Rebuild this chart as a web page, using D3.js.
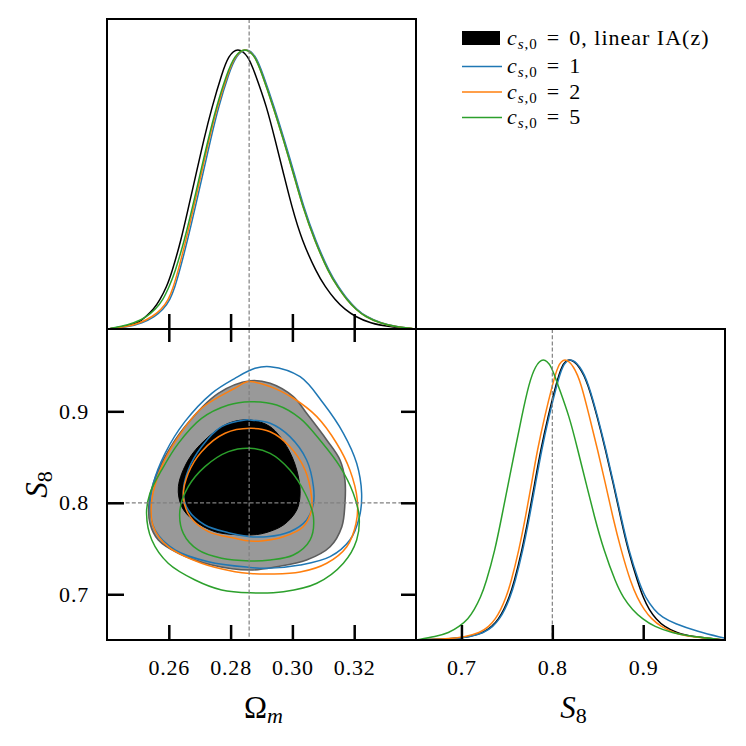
<!DOCTYPE html>
<html>
<head>
<meta charset="utf-8">
<script src="https://cdn.jsdelivr.net/npm/d3@7"></script>
<style>
body { margin: 0; background: #fff; }
</style>
</head>
<body>
<div id="chart"></div>
<script>
////////////////////////////////
//   Data
////////////////////////////////
const omTicks = [0.26, 0.28, 0.30, 0.32];
const s8Ticks = [0.7, 0.8, 0.9];
const omFid = 0.286;
const s8Fid = 0.8;

const legendValues = ["0", "1", "2", "5"];
const legendSuffix = [", linear IA(z)", "", "", ""];
const colors = ["#000000", "#1f77b4", "#ff7f0e", "#2ca02c"];

// 1D marginal of Omega_m, [value, normalised density]
const omPdfBlack = [[0.240, 0.0], [0.2454, 0.008], [0.2502, 0.02], [0.2525, 0.044], [0.2551, 0.07], [0.2571, 0.103],
  [0.2593, 0.15], [0.2609, 0.198], [0.2640, 0.316], [0.2664, 0.434], [0.2689, 0.553], [0.2713, 0.671], [0.2740, 0.789],
  [0.2772, 0.907], [0.2793, 0.97], [0.2823, 1.0], [0.2857, 0.97], [0.2879, 0.907], [0.2917, 0.789], [0.2944, 0.671],
  [0.2971, 0.553], [0.2998, 0.434], [0.3030, 0.316], [0.3079, 0.198], [0.3106, 0.15], [0.3138, 0.103], [0.3169, 0.07],
  [0.3203, 0.044], [0.3253, 0.02], [0.3310, 0.008], [0.340, 0.0]];
const omPdfBlue = [[0.240, 0.0], [0.2472, 0.008], [0.2512, 0.02], [0.2555, 0.044], [0.2582, 0.07], [0.2604, 0.103],
  [0.2620, 0.15], [0.2633, 0.198], [0.2661, 0.316], [0.2686, 0.434], [0.2711, 0.553], [0.2735, 0.671], [0.2761, 0.789],
  [0.2794, 0.907], [0.2818, 0.97], [0.2850, 1.0], [0.2882, 0.97], [0.2904, 0.907], [0.2941, 0.789], [0.2974, 0.671],
  [0.3006, 0.553], [0.3036, 0.434], [0.3074, 0.316], [0.3121, 0.198], [0.3149, 0.15], [0.3179, 0.103], [0.3208, 0.07],
  [0.3238, 0.044], [0.3288, 0.02], [0.3335, 0.008], [0.340, 0.0]];
const omPdfOrange = [[0.240, 0.0], [0.2465, 0.008], [0.2505, 0.02], [0.2548, 0.044], [0.2576, 0.07], [0.2599, 0.103],
  [0.2615, 0.15], [0.2628, 0.198], [0.2656, 0.316], [0.2681, 0.434], [0.2706, 0.553], [0.2730, 0.671], [0.2757, 0.789],
  [0.2791, 0.907], [0.2815, 0.97], [0.2847, 1.0], [0.2879, 0.97], [0.2901, 0.907], [0.2938, 0.789], [0.2971, 0.671],
  [0.3003, 0.553], [0.3033, 0.434], [0.3071, 0.316], [0.3118, 0.198], [0.3146, 0.15], [0.3176, 0.103], [0.3205, 0.07],
  [0.3235, 0.044], [0.3285, 0.02], [0.3332, 0.008], [0.340, 0.0]];
const omPdfGreen = [[0.240, 0.0], [0.2442, 0.008], [0.2487, 0.02], [0.2529, 0.044], [0.2557, 0.07], [0.2581, 0.103],
  [0.2601, 0.15], [0.2619, 0.198], [0.2651, 0.316], [0.2677, 0.434], [0.2702, 0.553], [0.2727, 0.671], [0.2754, 0.789],
  [0.2788, 0.907], [0.2813, 0.97], [0.2845, 1.0], [0.2879, 0.97], [0.2901, 0.907], [0.2938, 0.789], [0.2971, 0.671],
  [0.3003, 0.553], [0.3033, 0.434], [0.3071, 0.316], [0.3118, 0.198], [0.3146, 0.15], [0.3176, 0.103], [0.3205, 0.07],
  [0.3235, 0.044], [0.3285, 0.02], [0.3332, 0.008], [0.340, 0.0]];

// 1D marginal of S8
const s8PdfBlack = [[0.650, 0.0], [0.689, 0.003], [0.7093, 0.012], [0.7235, 0.025], [0.7338, 0.047], [0.7410, 0.075],
  [0.7466, 0.106], [0.7525, 0.15], [0.7576, 0.2], [0.7667, 0.318], [0.7740, 0.436], [0.7806, 0.554], [0.7872, 0.672],
  [0.7952, 0.79], [0.8044, 0.908], [0.8102, 0.97], [0.818, 1.0], [0.8298, 0.97], [0.8392, 0.908], [0.8494, 0.79],
  [0.8586, 0.672], [0.8670, 0.554], [0.8750, 0.436], [0.8832, 0.318], [0.8945, 0.2], [0.9000, 0.15], [0.9066, 0.106],
  [0.9140, 0.075], [0.9231, 0.047], [0.9370, 0.025], [0.9524, 0.012], [0.990, 0.0]];
const s8PdfBlue = [[0.650, 0.0], [0.690, 0.003], [0.7103, 0.012], [0.7245, 0.025], [0.7348, 0.047], [0.7420, 0.075],
  [0.7476, 0.106], [0.7535, 0.15], [0.7586, 0.2], [0.7677, 0.318], [0.7750, 0.436], [0.7816, 0.554], [0.7882, 0.672],
  [0.7962, 0.79], [0.8054, 0.908], [0.8112, 0.97], [0.819, 1.0], [0.8307, 0.97], [0.8397, 0.908], [0.8499, 0.79],
  [0.8591, 0.672], [0.8675, 0.554], [0.8756, 0.436], [0.8839, 0.318], [0.8957, 0.2], [0.9025, 0.15], [0.9121, 0.106],
  [0.9210, 0.08], [0.9340, 0.059], [0.9596, 0.03], [0.989, 0.007]];
const s8PdfOrange = [[0.650, 0.0], [0.685, 0.003], [0.7048, 0.012], [0.7200, 0.025], [0.7304, 0.047], [0.7375, 0.075],
  [0.7432, 0.106], [0.7490, 0.15], [0.7542, 0.2], [0.7633, 0.318], [0.7706, 0.436], [0.7772, 0.554], [0.7835, 0.672],
  [0.7915, 0.79], [0.8006, 0.908], [0.8060, 0.97], [0.8135, 1.0], [0.8235, 0.97], [0.8317, 0.908], [0.8408, 0.79],
  [0.8499, 0.672], [0.8584, 0.554], [0.8664, 0.436], [0.8756, 0.318], [0.8866, 0.2], [0.8935, 0.15], [0.9011, 0.106],
  [0.9090, 0.075], [0.9195, 0.047], [0.9340, 0.025], [0.9487, 0.012], [0.990, 0.0]];
const s8PdfGreen = [[0.650, 0.0], [0.6719, 0.012], [0.6860, 0.025], [0.6975, 0.047], [0.7075, 0.075], [0.7140, 0.106],
  [0.7210, 0.15], [0.7268, 0.2], [0.7370, 0.318], [0.7443, 0.436], [0.7516, 0.554], [0.7589, 0.672], [0.7663, 0.79],
  [0.7743, 0.908], [0.7813, 0.97], [0.790, 1.0], [0.7990, 0.97], [0.8054, 0.908], [0.8189, 0.79], [0.8280, 0.672],
  [0.8372, 0.554], [0.8463, 0.436], [0.8565, 0.318], [0.8701, 0.2], [0.8780, 0.15], [0.8883, 0.106], [0.8990, 0.075],
  [0.9121, 0.047], [0.9320, 0.025], [0.9524, 0.012], [0.990, 0.0]];

// 2D contours, [Omega_m, S8]
const contBlack95 = [[0.2863, 0.9335], [0.2928, 0.9306], [0.3003, 0.916], [0.3046, 0.8978], [0.3111, 0.8687], [0.3154, 0.8468],
  [0.3170, 0.8249], [0.3170, 0.7994], [0.3160, 0.7739], [0.3122, 0.752], [0.3046, 0.7375], [0.2949, 0.7301], [0.2863, 0.7265],
  [0.2739, 0.732], [0.2631, 0.7448], [0.2566, 0.7593], [0.2539, 0.7776], [0.2536, 0.7994], [0.2550, 0.8213], [0.2588, 0.8504],
  [0.2652, 0.8832], [0.2760, 0.9197]];
const contBlack68 = [[0.2863, 0.8905], [0.2928, 0.8832], [0.2982, 0.8613], [0.3014, 0.8359], [0.3025, 0.8104], [0.3014, 0.7921],
  [0.2971, 0.7757], [0.2906, 0.7666], [0.2863, 0.7648], [0.2836, 0.7648], [0.2750, 0.7684], [0.2679, 0.7812], [0.2642, 0.7957],
  [0.2631, 0.8176], [0.2663, 0.8468], [0.2717, 0.8686], [0.2793, 0.8869]];
const contBlue95 = [[0.2928, 0.9488], [0.3025, 0.9378], [0.3100, 0.9088], [0.3165, 0.876], [0.3208, 0.8432], [0.3224, 0.8104],
  [0.3217, 0.7848], [0.3186, 0.7593], [0.3122, 0.7411], [0.3025, 0.732], [0.2917, 0.7284], [0.2857, 0.7295], [0.2728, 0.7356],
  [0.2620, 0.7484], [0.2555, 0.7703], [0.2539, 0.7957], [0.2550, 0.8213], [0.2588, 0.8541], [0.2652, 0.8887], [0.2739, 0.9197],
  [0.2814, 0.9361], [0.2879, 0.947]];
const contBlue68 = [[0.2863, 0.8905], [0.2928, 0.8869], [0.2992, 0.8723], [0.3046, 0.8468], [0.3068, 0.8176], [0.3068, 0.7994],
  [0.3046, 0.7812], [0.2992, 0.7684], [0.2917, 0.7629], [0.2863, 0.763], [0.2793, 0.7673], [0.2717, 0.7757], [0.2663, 0.7921],
  [0.2647, 0.8104], [0.2663, 0.8359], [0.2706, 0.8613], [0.2771, 0.8832], [0.2847, 0.8905]];
const contOrange95 = [[0.2857, 0.9325], [0.2928, 0.927], [0.3003, 0.9143], [0.3079, 0.8942], [0.3143, 0.8651], [0.3186, 0.8359],
  [0.3210, 0.8031], [0.3206, 0.7776], [0.3176, 0.752], [0.3111, 0.7339], [0.3025, 0.7243], [0.2928, 0.7222], [0.2863, 0.7227],
  [0.2814, 0.7247], [0.2706, 0.7339], [0.2598, 0.752], [0.2550, 0.7739], [0.2545, 0.8031], [0.2577, 0.8395], [0.2631, 0.8723],
  [0.2706, 0.9033], [0.2814, 0.9252]];
const contOrange68 = [[0.2863, 0.8814], [0.2928, 0.8777], [0.2992, 0.8613], [0.3041, 0.8359], [0.3062, 0.8067], [0.3062, 0.7921],
  [0.3035, 0.7739], [0.2971, 0.7629], [0.2906, 0.7586], [0.2863, 0.7582], [0.2814, 0.7612], [0.2728, 0.7684], [0.2669, 0.7848],
  [0.2647, 0.8067], [0.2663, 0.8322], [0.2706, 0.8559], [0.2782, 0.876]];
const contGreen95 = [[0.2863, 0.9105], [0.2949, 0.9069], [0.3025, 0.8923], [0.3089, 0.8686], [0.3154, 0.8395], [0.3197, 0.8104],
  [0.3216, 0.7848], [0.3208, 0.7593], [0.3165, 0.7339], [0.3079, 0.712], [0.2971, 0.7028], [0.2863, 0.7016], [0.2771, 0.7047],
  [0.2685, 0.7156], [0.2598, 0.7339], [0.2545, 0.7593], [0.2528, 0.7885], [0.2539, 0.8104], [0.2577, 0.8359], [0.2631, 0.865],
  [0.2706, 0.8923], [0.2793, 0.9069]];
const contGreen68 = [[0.2863, 0.8596], [0.2928, 0.8541], [0.2992, 0.8359], [0.3041, 0.8104], [0.3068, 0.7848], [0.3057, 0.7593],
  [0.3003, 0.7429], [0.2928, 0.7375], [0.2863, 0.7364], [0.2771, 0.7393], [0.2695, 0.7484], [0.2647, 0.7666], [0.2636, 0.7921],
  [0.2663, 0.8176], [0.2717, 0.8395], [0.2793, 0.8559]];

////////////////////////////////
//   Layout and scales
////////////////////////////////
const W = 746, H = 746;
const x0 = 107, x1 = 416, x2 = 725;
const y0 = 19, y1 = 329, y2 = 640;
const serif = '"Liberation Serif", "DejaVu Serif", serif';

const xOm = d3.scaleLinear().domain([0.24, 0.34]).range([x0, x1]);
const xS8 = d3.scaleLinear().domain([0.65, 0.99]).range([x1, x2]);
const yS8 = d3.scaleLinear().domain([0.65, 0.99]).range([y2, y1]);
const yOmPdf = d3.scaleLinear().domain([0, 1.1]).range([y1, y0]);
const yS8Pdf = d3.scaleLinear().domain([0, 1.1]).range([y2, y1]);

const svg = d3.select("#chart").append("svg")
  .attr("width", W).attr("height", H)
  .style("font-family", serif);

const defs = svg.append("defs");
[["clipTL", x0, y0, x1, y1], ["clipBL", x0, y1, x1, y2], ["clipBR", x1, y1, x2, y2]].forEach(function(c) {
  defs.append("clipPath").attr("id", c[0]).append("rect")
    .attr("x", c[1]).attr("y", c[2]).attr("width", c[3] - c[1]).attr("height", c[4] - c[2]);
});

////////////////////////////////
//   Top-left: Omega_m marginal
////////////////////////////////
const omLine = d3.line().x(d => xOm(d[0])).y(d => yOmPdf(d[1])).curve(d3.curveBasis);
const gTL = svg.append("g").attr("clip-path", "url(#clipTL)");
[omPdfBlack, omPdfBlue, omPdfOrange, omPdfGreen].forEach(function(s, i) {
  gTL.append("path").attr("d", omLine(s))
    .attr("fill", "none").attr("stroke", colors[i]).attr("stroke-width", 1.5);
});

////////////////////////////////
//   Bottom-right: S8 marginal
////////////////////////////////
const s8Line = d3.line().x(d => xS8(d[0])).y(d => yS8Pdf(d[1])).curve(d3.curveBasis);
const gBR = svg.append("g").attr("clip-path", "url(#clipBR)");
[s8PdfBlack, s8PdfBlue, s8PdfOrange, s8PdfGreen].forEach(function(s, i) {
  gBR.append("path").attr("d", s8Line(s))
    .attr("fill", "none").attr("stroke", colors[i]).attr("stroke-width", 1.5);
});

////////////////////////////////
//   Bottom-left: 2D contours
////////////////////////////////
const contLine = d3.line().x(d => xOm(d[0])).y(d => yS8(d[1])).curve(d3.curveCatmullRomClosed.alpha(0.5));
const gBL = svg.append("g").attr("clip-path", "url(#clipBL)");
gBL.append("path").attr("d", contLine(contBlack95))
  .attr("fill", "#999999").attr("stroke", "#5c5c5c").attr("stroke-width", 1.6);
gBL.append("path").attr("d", contLine(contBlack68))
  .attr("fill", "#000000").attr("stroke", "#000000").attr("stroke-width", 1);
[[contBlue95, contBlue68], [contOrange95, contOrange68], [contGreen95, contGreen68]].forEach(function(pair, i) {
  pair.forEach(function(c) {
    gBL.append("path").attr("d", contLine(c))
      .attr("fill", "none").attr("stroke", colors[i + 1]).attr("stroke-width", 1.5);
  });
});

////////////////////////////////
//   Fiducial dashed lines
////////////////////////////////
const dash = { stroke: "#808080", width: 1.2, array: "4,2.2" };
function dashed(xa, ya, xb, yb) {
  svg.append("line").attr("x1", xa).attr("y1", ya).attr("x2", xb).attr("y2", yb)
    .attr("stroke", dash.stroke).attr("stroke-width", dash.width).attr("stroke-dasharray", dash.array);
}
dashed(xOm(omFid), y0, xOm(omFid), y2);
dashed(x0, yS8(s8Fid), x1, yS8(s8Fid));
dashed(xS8(s8Fid), y1, xS8(s8Fid), y2);

////////////////////////////////
//   Ticks and tick labels
////////////////////////////////
function styleAxis(g, size) {
  g.select(".domain").remove();
  g.attr("font-family", serif).attr("font-size", size);
  g.selectAll(".tick line").attr("stroke", "#000").attr("stroke-width", 2.5);
  g.selectAll(".tick text").attr("fill", "#000").attr("letter-spacing", 0.8);
}
svg.append("g").attr("transform", "translate(0," + y1 + ")")
  .call(d3.axisBottom(xOm).tickValues(omTicks).tickSizeInner(-15).tickSizeOuter(0).tickFormat(""))
  .call(g => styleAxis(g, 22));
svg.append("g").attr("transform", "translate(0," + y1 + ")")
  .call(d3.axisTop(xOm).tickValues(omTicks).tickSizeInner(-13).tickSizeOuter(0).tickFormat(""))
  .call(g => styleAxis(g, 22));
svg.append("g").attr("transform", "translate(0," + y2 + ")")
  .call(d3.axisBottom(xOm).tickValues(omTicks).tickSizeInner(-15).tickSizeOuter(0)
    .tickPadding(19).tickFormat(d3.format(".2f")))
  .call(g => styleAxis(g, 22));
svg.append("g").attr("transform", "translate(" + x0 + ",0)")
  .call(d3.axisLeft(yS8).tickValues(s8Ticks).tickSizeInner(-17).tickSizeOuter(0)
    .tickPadding(18).tickFormat(d3.format(".1f")))
  .call(g => styleAxis(g, 22));
svg.append("g").attr("transform", "translate(" + x1 + ",0)")
  .call(d3.axisRight(yS8).tickValues(s8Ticks).tickSizeInner(-15).tickSizeOuter(0).tickFormat(""))
  .call(g => styleAxis(g, 22));
svg.append("g").attr("transform", "translate(0," + y2 + ")")
  .call(d3.axisBottom(xS8).tickValues(s8Ticks).tickSizeInner(-15).tickSizeOuter(0)
    .tickPadding(19).tickFormat(d3.format(".1f")))
  .call(g => styleAxis(g, 22));

////////////////////////////////
//   Panel frames
////////////////////////////////
[[x0, y0, x1, y1], [x0, y1, x1, y2], [x1, y1, x2, y2]].forEach(function(p) {
  svg.append("rect").attr("x", p[0]).attr("y", p[1]).attr("width", p[2] - p[0]).attr("height", p[3] - p[1])
    .attr("fill", "none").attr("stroke", "#000").attr("stroke-width", 2);
});

////////////////////////////////
//   Axis labels
////////////////////////////////
let omLabel = svg.append("text").attr("x", (x0 + x1) / 2 + 2).attr("y", 718)
  .attr("text-anchor", "middle").attr("font-size", 31);
omLabel.append("tspan").text("Ω");
omLabel.append("tspan").attr("font-style", "italic").attr("font-size", 22).attr("dy", 5).text("m");

let s8Label = svg.append("text").attr("x", (x1 + x2) / 2 + 3).attr("y", 718)
  .attr("text-anchor", "middle").attr("font-size", 31);
s8Label.append("tspan").attr("font-style", "italic").text("S");
s8Label.append("tspan").attr("font-size", 22).attr("dy", 5).text("8");

let s8yLabel = svg.append("text")
  .attr("transform", "translate(47," + ((y1 + y2) / 2) + ") rotate(-90)")
  .attr("text-anchor", "middle").attr("font-size", 31);
s8yLabel.append("tspan").attr("font-style", "italic").text("S");
s8yLabel.append("tspan").attr("font-size", 22).attr("dy", 5).text("8");

////////////////////////////////
//   Legend
////////////////////////////////
const legRows = [38, 66.5, 92, 117.5];
const leg = svg.append("g").attr("font-size", 22).attr("letter-spacing", 1);
legendValues.forEach(function(v, i) {
  let yy = legRows[i];
  if (i === 0) {
    leg.append("rect").attr("x", 462).attr("y", yy - 7).attr("width", 38).attr("height", 14).attr("fill", colors[0]);
  } else {
    leg.append("line").attr("x1", 462).attr("x2", 502).attr("y1", yy).attr("y2", yy)
      .attr("stroke", colors[i]).attr("stroke-width", 1.5);
  }
  let t = leg.append("text").attr("x", 507).attr("y", yy + 6.5);
  t.append("tspan").attr("font-style", "italic").text("c");
  t.append("tspan").attr("font-style", "italic").attr("font-size", 15).attr("dy", 4).text("s");
  t.append("tspan").attr("font-size", 15).text(",0");
  t.append("tspan").attr("dy", -4).attr("dx", 9).text("=");
  t.append("tspan").attr("dx", 9).text(v + legendSuffix[i]);
});
</script>
</body>
</html>
